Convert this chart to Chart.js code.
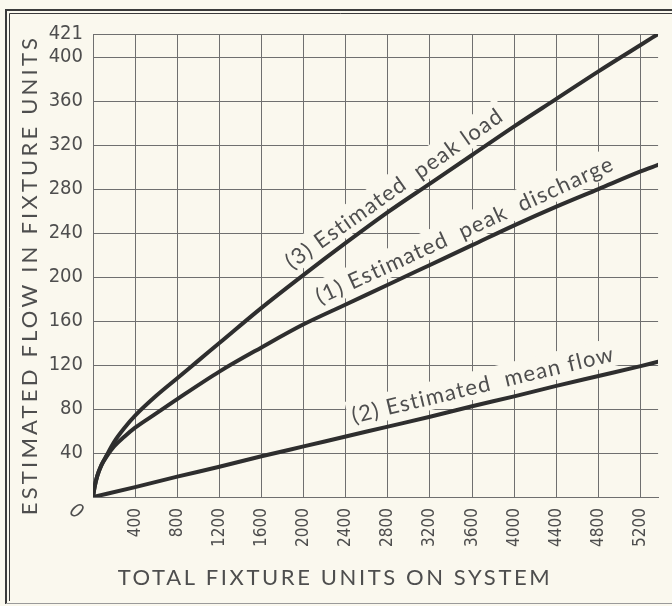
<!DOCTYPE html>
<html>
<head>
<meta charset="utf-8">
<script src="https://cdn.jsdelivr.net/npm/chart.js@4.4.1/dist/chart.umd.min.js"></script>
<style>
  html, body { margin: 0; padding: 0; background: #faf8ee; }
  #wrap { width: 672px; height: 606px; position: relative; overflow: hidden; }
</style>
</head>
<body>
<div id="wrap"><canvas id="flowChart"></canvas></div>
<script>
// axis ticks
const xTicks = [0, 400, 800, 1200, 1600, 2000, 2400, 2800, 3200, 3600, 4000, 4400, 4800, 5200];
const yTicks = [0, 40, 80, 120, 160, 200, 240, 280, 320, 360, 400, 421];
const xMax = 5366;
const yMax = 421;

// (3) estimated peak load
const loadUnits = [0, 15, 40, 80, 130, 200, 300, 400, 600, 800, 1000, 1200, 1600, 2000, 2400, 2800, 3200, 3600, 4000, 4400, 4800, 5200, 5366];
const peakLoad  = [0, 9, 19, 29, 38, 50, 63, 74, 92, 108, 124, 140, 172, 202, 231, 259, 285, 311, 337, 362, 387, 411, 421];

// (1) estimated peak discharge
const dischargeUnits = [0, 15, 40, 80, 130, 200, 300, 400, 600, 800, 1200, 1600, 2000, 2400, 2800, 3200, 3600, 4000, 4400, 4800, 5200, 5366];
const peakDischarge  = [0, 9, 19, 29, 37, 46, 55, 63, 76, 89, 114, 136, 157, 175, 193, 211, 229, 247, 264, 280, 296, 302];

// (2) estimated mean flow
const meanUnits = [0, 400, 800, 1200, 1600, 2000, 2400, 2800, 3200, 3600, 4000, 4400, 4800, 5200, 5366];
const meanFlow  = [0, 9, 18.5, 27.5, 37, 46, 55, 64, 73, 82.5, 91.5, 101, 110, 119, 123];

const curveNames = ['(3) Estimated  peak load', '(1) Estimated  peak  discharge', '(2) Estimated  mean flow'];
// where each name runs along its curve (x from / to)
const nameFrom = [1950, 2200, 2500];
const nameTo   = [3980, 4800, 4800];

const paper = '#faf8ee';
const ink = '#2e2e2e';
const gridColor = '#6f6f6f';
const textColor = '#4e4e4e';
const humanist = "Lato, 'Open Sans', sans-serif";

function toPoints(xs, ys) {
  return xs.map((x, i) => ({ x: x, y: ys[i] }));
}

function valueAt(xs, ys, u) {
  for (let i = 1; i < xs.length; i++) {
    if (u <= xs[i]) {
      const t = (u - xs[i - 1]) / (xs[i] - xs[i - 1]);
      return ys[i - 1] + t * (ys[i] - ys[i - 1]);
    }
  }
  return ys[ys.length - 1];
}

const series = [[loadUnits, peakLoad], [dischargeUnits, peakDischarge], [meanUnits, meanFlow]];

// works out where each curve name sits, in pixels
function nameLayout(chart, i) {
  const xs = chart.scales.x, ys = chart.scales.y;
  const [ux, uy] = series[i];
  const x0 = xs.getPixelForValue(nameFrom[i]);
  const y0 = ys.getPixelForValue(valueAt(ux, uy, nameFrom[i]));
  const x1 = xs.getPixelForValue(nameTo[i]);
  const y1 = ys.getPixelForValue(valueAt(ux, uy, nameTo[i]));
  const angle = Math.atan2(y1 - y0, x1 - x0);
  return { x0, y0, angle };
}

function setNameFont(ctx) {
  ctx.font = '22px ' + humanist;
  ctx.letterSpacing = '1.3px';
  ctx.textBaseline = 'alphabetic';
  ctx.textAlign = 'left';
}

const paperPlugin = {
  id: 'paper',
  beforeDraw(chart) {
    const ctx = chart.ctx;
    ctx.save();
    ctx.fillStyle = paper;
    ctx.fillRect(0, 0, chart.width, chart.height);
    // double frame rule, top and left
    ctx.strokeStyle = '#3b3b3b';
    ctx.lineWidth = 2;
    ctx.beginPath();
    ctx.moveTo(5, 10); ctx.lineTo(chart.width, 10);
    ctx.moveTo(6, 10); ctx.lineTo(6, 604);
    ctx.stroke();
    ctx.lineWidth = 1;
    ctx.beginPath();
    ctx.moveTo(9.5, 13.5); ctx.lineTo(chart.width, 13.5);
    ctx.moveTo(9.5, 13.5); ctx.lineTo(9.5, 601);
    ctx.stroke();
    ctx.strokeStyle = '#9a9a9a';
    ctx.beginPath();
    ctx.moveTo(6, 603.5); ctx.lineTo(chart.width, 603.5);
    ctx.stroke();
    ctx.restore();
  },
  beforeDatasetsDraw(chart) {
    // clear the grid behind the curve names
    const ctx = chart.ctx;
    ctx.save();
    setNameFont(ctx);
    curveNames.forEach((name, i) => {
      const p = nameLayout(chart, i);
      const w = ctx.measureText(name).width;
      ctx.save();
      ctx.translate(p.x0, p.y0);
      ctx.rotate(p.angle);
      ctx.fillStyle = paper;
      ctx.fillRect(-4, -34, w + 8, 28);
      ctx.restore();
    });
    ctx.restore();
  },
  afterDatasetsDraw(chart) {
    const ctx = chart.ctx;
    ctx.save();
    setNameFont(ctx);
    ctx.fillStyle = textColor;
    curveNames.forEach((name, i) => {
      const p = nameLayout(chart, i);
      ctx.save();
      ctx.translate(p.x0, p.y0);
      ctx.rotate(p.angle);
      ctx.fillText(name, 0, -11);
      ctx.restore();
    });
    ctx.restore();
  },
  afterDraw(chart) {
    const ctx = chart.ctx;
    ctx.save();
    ctx.fillStyle = textColor;
    ctx.font = '22px ' + humanist;
    ctx.letterSpacing = '2.6px';
    ctx.textAlign = 'center';
    ctx.textBaseline = 'middle';
    ctx.fillText('TOTAL FIXTURE UNITS ON SYSTEM', 335, 578);
    ctx.letterSpacing = '3.2px';
    ctx.translate(30, 275);
    ctx.rotate(-Math.PI / 2);
    ctx.fillText('ESTIMATED FLOW IN FIXTURE UNITS', 0, 0);
    ctx.restore();

    // shared origin label
    ctx.save();
    ctx.fillStyle = textColor;
    ctx.font = "italic 20px 'DejaVu Sans Condensed', 'DejaVu Sans', sans-serif";
    ctx.textAlign = 'center';
    ctx.textBaseline = 'middle';
    ctx.translate(76, 512);
    ctx.rotate(0.6);
    ctx.fillText('0', 0, 0);
    ctx.restore();
  }
};

const curveStyle = {
  borderColor: ink,
  borderWidth: 4,
  pointRadius: 0,
  fill: false,
  cubicInterpolationMode: 'monotone',
  borderCapStyle: 'round'
};

new Chart(document.getElementById('flowChart'), {
  type: 'line',
  data: {
    datasets: [
      Object.assign({ label: curveNames[0], data: toPoints(loadUnits, peakLoad) }, curveStyle),
      Object.assign({ label: curveNames[1], data: toPoints(dischargeUnits, peakDischarge) }, curveStyle),
      Object.assign({ label: curveNames[2], data: toPoints(meanUnits, meanFlow) }, curveStyle)
    ]
  },
  options: {
    responsive: true,
    maintainAspectRatio: false,
    animation: false,
    layout: { padding: { top: 34, right: 0, bottom: 0, left: 0 } },
    plugins: {
      legend: { display: false },
      tooltip: { enabled: false }
    },
    scales: {
      x: {
        type: 'linear',
        min: 0,
        max: xMax,
        afterBuildTicks: axis => { axis.ticks = xTicks.map(v => ({ value: v })); },
        afterFit: scale => { scale.height = 109; },
        grid: { color: gridColor, lineWidth: 1, drawTicks: false },
        border: { color: gridColor, width: 1 },
        ticks: {
          autoSkip: false,
          minRotation: 90,
          maxRotation: 90,
          padding: 11,
          color: textColor,
          font: { family: "'Liberation Sans Narrow', 'DejaVu Sans Condensed', sans-serif", size: 17 },
          callback: v => (v === 0 ? '' : String(v))
        }
      },
      y: {
        type: 'linear',
        min: 0,
        max: yMax,
        afterBuildTicks: axis => { axis.ticks = yTicks.map(v => ({ value: v })); },
        afterFit: scale => { scale.width = 93; },
        grid: { color: gridColor, lineWidth: 1, drawTicks: false },
        border: { color: gridColor, width: 1 },
        ticks: {
          autoSkip: false,
          padding: 10,
          color: textColor,
          font: { family: "'DejaVu Sans Condensed', 'DejaVu Sans', sans-serif", size: 20 },
          callback: v => (v === 0 ? '' : String(v))
        }
      }
    }
  },
  plugins: [paperPlugin]
});
</script>
</body>
</html>
